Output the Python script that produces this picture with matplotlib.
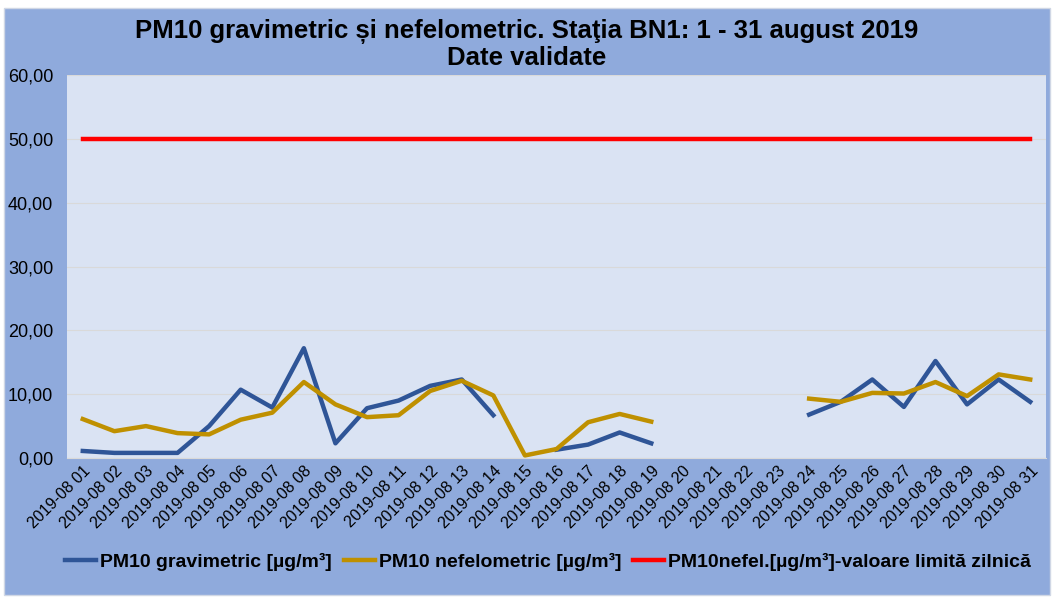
import numpy as np
from matplotlib import pyplot as plt
from matplotlib.patches import Rectangle

#%% data (nan = no value)
days = ['2019-08 %02d' % d for d in range(1, 32)]
gravimetric = [1.1, 0.8, 0.8, 0.8, 5.0, 10.7, 7.9, 17.2, 2.3, 7.8, 9.0, 11.3, 12.3, 6.7,
               np.nan, 1.3, 2.1, 4.0, 2.3, np.nan, np.nan, np.nan, np.nan,
               6.8, 8.8, 12.3, 8.0, 15.2, 8.4, 12.3, 8.8]
nefelometric = [6.1, 4.2, 5.0, 3.9, 3.7, 6.0, 7.1, 11.9, 8.4, 6.4, 6.7, 10.5, 12.1, 9.8,
                0.4, 1.4, 5.6, 6.9, 5.7, np.nan, np.nan, np.nan, np.nan,
                9.3, 8.8, 10.2, 10.1, 11.9, 9.7, 13.1, 12.3]
limit = [50.0] * 31
yticks = [0, 10, 20, 30, 40, 50, 60]

plt.rcParams['font.family'] = ['Liberation Sans', 'DejaVu Sans']

#%% figure
fig = plt.figure(figsize=(10.54, 5.98), dpi=100, facecolor='white')
fig.patches.append(Rectangle((4 / 1054, 3 / 598), 1046 / 1054, 587 / 598,
                             transform=fig.transFigure, facecolor='#8FAADC',
                             edgecolor='#D0D7E5', lw=1, zorder=-5))

ax = fig.add_axes([67 / 1054, 140 / 598, 979 / 1054, 383 / 598])
ax.set_facecolor('#DAE3F3')
x = np.arange(len(days))

ax.plot(x, gravimetric, color='#2F5597', lw=3.2, label='PM10 gravimetric [µg/m³]', zorder=3)
ax.plot(x, nefelometric, color='#BF9000', lw=3.2, label='PM10 nefelometric [µg/m³]', zorder=3)
ax.plot(x, limit, color='#FF0000', lw=3.2, label='PM10nefel.[µg/m³]-valoare limită zilnică', zorder=3)

ax.set_xlim(-0.5, len(days) - 0.5)
ax.set_ylim(0, 60)
ax.set_yticks(yticks)
ax.set_yticklabels(['%d,00' % v for v in yticks], fontsize=13)
ax.set_xticks(x)
ax.set_xticklabels(days, rotation=45, ha='right', rotation_mode='anchor', fontsize=11.5)
ax.tick_params(axis='y', length=0, pad=10)
ax.tick_params(axis='x', length=0, pad=4)
ax.yaxis.grid(True, color='#D9D9D9', lw=0.8)
ax.set_axisbelow(True)
for s in ['top', 'right', 'left']:
    ax.spines[s].set_visible(False)
ax.spines['bottom'].set_color('#D9D9D9')

#%% titles and legend
fig.text(0.5, 566 / 598, 'PM10 gravimetric și nefelometric. Staţia BN1: 1 - 31 august 2019',
         ha='center', va='center', fontsize=18.5, fontweight='bold')
fig.text(0.5, 540 / 598, 'Date validate', ha='center', va='center',
         fontsize=18.5, fontweight='bold')

fig.legend(loc='center', bbox_to_anchor=(548 / 1054, 36 / 598), ncol=3, frameon=False,
           handlelength=1.6, handletextpad=0.2, columnspacing=0.6,
           prop={'size': 14, 'weight': 'bold'})

fig.savefig('out.png', dpi=100, facecolor=fig.get_facecolor())
